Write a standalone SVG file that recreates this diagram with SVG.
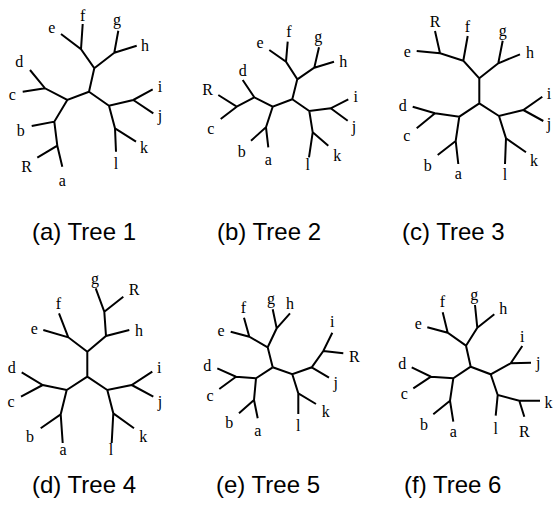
<svg xmlns="http://www.w3.org/2000/svg" width="553" height="508" viewBox="0 0 553 508">
<style>
.e{fill:none;stroke:#000;stroke-width:2;stroke-linecap:butt;stroke-linejoin:miter}
.l{font-family:"Liberation Serif","Times New Roman",serif;font-size:16px;fill:#000;text-anchor:middle}
.cap{font-family:"Liberation Sans",Arial,sans-serif;font-size:24px;fill:#000}
</style>
<rect width="553" height="508" fill="#fff"/>

<g id="tree1">
<g id="t1-connectors">
<path class="e" d="M89,91.7L94.3,68.3L81,49.3L61,34M81,49.3L82.7,24M94.3,68.3L114.3,52.7L118.3,30.7M114.3,52.7L136.7,45.7M89,91.7L109,105.7L133.3,100L152.7,89.3M133.3,100L153.3,113.3M109,105.7L115,128.3L136,141.7M115,128.3L116,151.7M89,91.7L67.3,100L45,88.3L30,70M45,88.3L22.7,91.7M67.3,100L54.3,121.7L31.7,126M54.3,121.7L57.3,145.7L37.3,157.7M57.3,145.7L62.3,166.7"/>
</g>
<g id="t1-a"><text class="l" x="62.3" y="185.5">a</text></g>
<g id="t1-b"><text class="l" x="20.7" y="135.5">b</text></g>
<g id="t1-c"><text class="l" x="12.3" y="100">c</text></g>
<g id="t1-d"><text class="l" x="19.3" y="66.5">d</text></g>
<g id="t1-e"><text class="l" x="51.7" y="33">e</text></g>
<g id="t1-f"><text class="l" x="82.7" y="20.5">f</text></g>
<g id="t1-g"><text class="l" x="117" y="25">g</text></g>
<g id="t1-h"><text class="l" x="145" y="50.5">h</text></g>
<g id="t1-i"><text class="l" x="160" y="92">i</text></g>
<g id="t1-j"><text class="l" x="160" y="121">j</text></g>
<g id="t1-k"><text class="l" x="144" y="153">k</text></g>
<g id="t1-l"><text class="l" x="116" y="168.5">l</text></g>
<g id="t1-R"><text class="l" x="26.7" y="172">R</text></g>
<g id="t1-caption"><text class="cap" x="32" y="240">(a) Tree 1</text></g>
</g>

<g id="tree2">
<g id="t2-connectors">
<path class="e" d="M292.3,99.3L297.3,79.3L286,61.7L269.3,50M286,61.7L287.7,41.7M297.3,79.3L314.3,67.7L319,47.3M314.3,67.7L334,61.7M292.3,99.3L309.3,111L330.7,108.3L348.3,99.3M330.7,108.3L347.7,120.7M309.3,111L312.7,132.3L328.3,145.7M312.7,132.3L309,157.3M292.3,99.3L272.7,106.7L254.3,97.3L242.7,80M254.3,97.3L236.7,106.7L218.3,95M236.7,106.7L220.7,119M272.7,106.7L266,127.3L251,140.7M266,127.3L268.3,147.3"/>
</g>
<g id="t2-a"><text class="l" x="268.3" y="164.7">a</text></g>
<g id="t2-b"><text class="l" x="241.7" y="157">b</text></g>
<g id="t2-c"><text class="l" x="210.7" y="134">c</text></g>
<g id="t2-d"><text class="l" x="242.7" y="75.5">d</text></g>
<g id="t2-e"><text class="l" x="260" y="48.3">e</text></g>
<g id="t2-f"><text class="l" x="289" y="37">f</text></g>
<g id="t2-g"><text class="l" x="318.3" y="42">g</text></g>
<g id="t2-h"><text class="l" x="343.3" y="66.5">h</text></g>
<g id="t2-i"><text class="l" x="355.7" y="102.3">i</text></g>
<g id="t2-j"><text class="l" x="354" y="131.5">j</text></g>
<g id="t2-k"><text class="l" x="337.3" y="161">k</text></g>
<g id="t2-l"><text class="l" x="307.7" y="169.5">l</text></g>
<g id="t2-R"><text class="l" x="207.7" y="94.8">R</text></g>
<g id="t2-caption"><text class="cap" x="217" y="240">(b) Tree 2</text></g>
</g>

<g id="tree3">
<g id="t3-connectors">
<path class="e" d="M479.3,103.3L479.3,78.3L463.3,60.7L467.7,36M463.3,60.7L440,53.3L435,31M440,53.3L416.7,51M479.3,78.3L498.3,63.3L502.7,40.7M498.3,63.3L520,54.3M479.3,103.3L499,116L523.3,110L542.3,96.7M523.3,110L543.3,121M499,116L506,138.3L526,152.3M506,138.3L505,164M479.3,103.3L459.3,116.7L435,113.3L412.7,106.7M435,113.3L416.7,128.3M459.3,116.7L455.7,141L437.7,155M455.7,141L458.3,164"/>
</g>
<g id="t3-a"><text class="l" x="458.3" y="179">a</text></g>
<g id="t3-b"><text class="l" x="427.7" y="170.5">b</text></g>
<g id="t3-c"><text class="l" x="406.7" y="140.7">c</text></g>
<g id="t3-d"><text class="l" x="402.7" y="110.5">d</text></g>
<g id="t3-e"><text class="l" x="407.3" y="56.7">e</text></g>
<g id="t3-f"><text class="l" x="467.3" y="31.5">f</text></g>
<g id="t3-g"><text class="l" x="502.7" y="35.5">g</text></g>
<g id="t3-h"><text class="l" x="530" y="58">h</text></g>
<g id="t3-i"><text class="l" x="549" y="99">i</text></g>
<g id="t3-j"><text class="l" x="549" y="129">j</text></g>
<g id="t3-k"><text class="l" x="534" y="166">k</text></g>
<g id="t3-l"><text class="l" x="505" y="179.5">l</text></g>
<g id="t3-R"><text class="l" x="435" y="27">R</text></g>
<g id="t3-caption"><text class="cap" x="402" y="240">(c) Tree 3</text></g>
</g>

<g id="tree4">
<g id="t4-connectors">
<path class="e" d="M87.3,376.7L87.3,351.7L68.3,337.3L43.3,330M68.3,337.3L59,313.3M87.3,351.7L106,336L129.3,330M106,336L104.3,311.7L95.7,288.3M104.3,311.7L123.3,296.7M87.3,376.7L107.3,390L131.7,385L152.3,371.7M131.7,385L153.3,396.7M107.3,390L113.3,413.3L134,428.3M113.3,413.3L111.7,443M87.3,376.7L66.7,390L42.7,385L21.7,372.3M42.7,385L21,396.7M66.7,390L60.7,414.3L40.7,428.3M60.7,414.3L62.7,443"/>
</g>
<g id="t4-a"><text class="l" x="63" y="455">a</text></g>
<g id="t4-b"><text class="l" x="30" y="441.5">b</text></g>
<g id="t4-c"><text class="l" x="11" y="407.3">c</text></g>
<g id="t4-d"><text class="l" x="11.7" y="372.8">d</text></g>
<g id="t4-e"><text class="l" x="34.3" y="334">e</text></g>
<g id="t4-f"><text class="l" x="58.3" y="308.8">f</text></g>
<g id="t4-g"><text class="l" x="95" y="284">g</text></g>
<g id="t4-h"><text class="l" x="139" y="335.5">h</text></g>
<g id="t4-i"><text class="l" x="159.3" y="373.3">i</text></g>
<g id="t4-j"><text class="l" x="160" y="406.5">j</text></g>
<g id="t4-k"><text class="l" x="143.3" y="441.5">k</text></g>
<g id="t4-l"><text class="l" x="111" y="455">l</text></g>
<g id="t4-R"><text class="l" x="134" y="294.8">R</text></g>
<g id="t4-caption"><text class="cap" x="32" y="493">(d) Tree 4</text></g>
</g>

<g id="tree5">
<g id="t5-connectors">
<path class="e" d="M272.7,367.3L267.7,347.3L249.3,336.7L230.7,331.7M249.3,336.7L244,317.7M267.7,347.3L276.7,328.3L272.7,309.3M276.7,328.3L290,313.3M272.7,367.3L292.3,374.3L311.7,367.3L323.3,351L332.3,332.7M323.3,351L343.3,353.3M311.7,367.3L329,377.7M292.3,374.3L298.3,393.3L316,404M298.3,393.3L298.3,414M272.7,367.3L256,378.3L236,376.7L217.3,368.3M236,376.7L219.3,389M256,378.3L254,400L239,413.3M254,400L257.7,418.3"/>
</g>
<g id="t5-a"><text class="l" x="257.7" y="435.7">a</text></g>
<g id="t5-b"><text class="l" x="229.3" y="428">b</text></g>
<g id="t5-c"><text class="l" x="210" y="400.7">c</text></g>
<g id="t5-d"><text class="l" x="207.3" y="370.5">d</text></g>
<g id="t5-e"><text class="l" x="221" y="335.7">e</text></g>
<g id="t5-f"><text class="l" x="243.3" y="312.8">f</text></g>
<g id="t5-g"><text class="l" x="271" y="304">g</text></g>
<g id="t5-h"><text class="l" x="290" y="308.8">h</text></g>
<g id="t5-i"><text class="l" x="332.3" y="326.7">i</text></g>
<g id="t5-j"><text class="l" x="335.7" y="387.5">j</text></g>
<g id="t5-k"><text class="l" x="325.7" y="417">k</text></g>
<g id="t5-l"><text class="l" x="298.3" y="430.5">l</text></g>
<g id="t5-R"><text class="l" x="354.3" y="361.5">R</text></g>
<g id="t5-caption"><text class="cap" x="216" y="493">(e) Tree 5</text></g>
</g>

<g id="tree6">
<g id="t6-connectors">
<path class="e" d="M470.7,366.7L466,345.7L447.7,332.7L427.3,327.3M447.7,332.7L442.7,312.3M466,345.7L477.3,327.7L475,305M477.3,327.7L494.3,314.3M470.7,366.7L490.7,374.3L510.7,363.3L522.3,346M510.7,363.3L531,362.7M490.7,374.3L497.7,395L519.3,400.7L540,400.7M519.3,400.7L524.3,416.7M497.7,395L495.7,415.7M470.7,366.7L453.3,378.3L431,376.7L411.7,367.3M431,376.7L413.3,388.3M453.3,378.3L450,400.7L433.3,414.3M450,400.7L453.3,421.7"/>
</g>
<g id="t6-a"><text class="l" x="453.3" y="436.7">a</text></g>
<g id="t6-b"><text class="l" x="424" y="429.5">b</text></g>
<g id="t6-c"><text class="l" x="404.3" y="399">c</text></g>
<g id="t6-d"><text class="l" x="402.3" y="368.8">d</text></g>
<g id="t6-e"><text class="l" x="418.3" y="329">e</text></g>
<g id="t6-f"><text class="l" x="442.3" y="307">f</text></g>
<g id="t6-g"><text class="l" x="474.3" y="300">g</text></g>
<g id="t6-h"><text class="l" x="503.3" y="313.8">h</text></g>
<g id="t6-i"><text class="l" x="522.3" y="341.7">i</text></g>
<g id="t6-j"><text class="l" x="538.3" y="367.5">j</text></g>
<g id="t6-k"><text class="l" x="548.5" y="408">k</text></g>
<g id="t6-l"><text class="l" x="495.7" y="433.8">l</text></g>
<g id="t6-R"><text class="l" x="524.3" y="437.2">R</text></g>
<g id="t6-caption"><text class="cap" x="404" y="493">(f) Tree 6</text></g>
</g>
</svg>
